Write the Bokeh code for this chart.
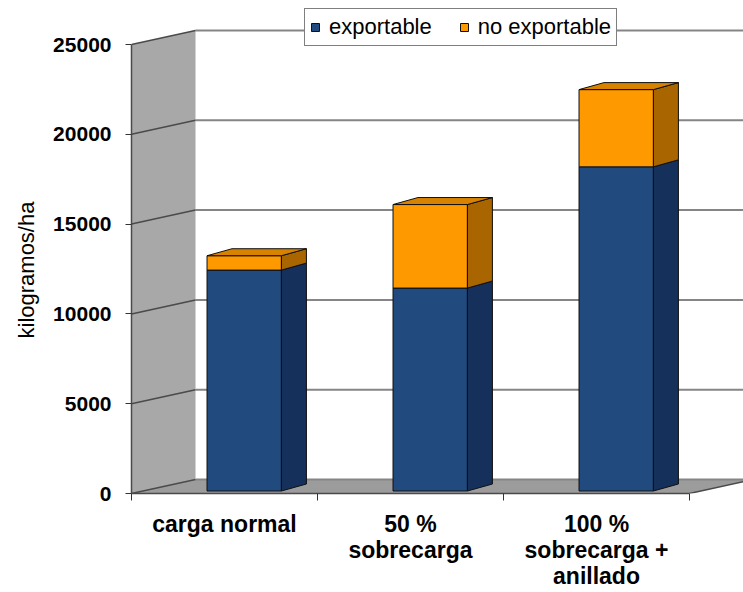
import numpy as np
from bokeh.plotting import figure
from bokeh.models import (Range1d, LinearAxis, FixedTicker, Legend, LegendItem,
                          Title)
from bokeh.embed import file_html
from bokeh.resources import INLINE

# ---------------- data ----------------
categories = ["carga normal", "50 %\nsobrecarga", "100 %\nsobrecarga +\nanillado"]
series_names = ["exportable", "no exportable"]
exportable = [12300, 11300, 18050]
no_exportable = [800, 4650, 4300]
y_ticks = [0, 5000, 10000, 15000, 20000, 25000]
y_title = "kilogramos/ha"

# ---------------- layout / style ----------------
FONT = "Liberation Sans"
W, H = 743, 592
B_LEFT, B_BOTTOM = 131, 99
PX_PER_CAT = 186.0
VAL_PER_PX = 25000.0 / 449.0
frame_w = W - B_LEFT
frame_h = H - B_BOTTOM

C_BLUE, C_BLUE_SIDE = "#214A7E", "#15305A"
C_ORANGE, C_ORANGE_SIDE, C_ORANGE_TOP = "#FF9900", "#A86500", "#D88300"
C_WALL, C_FLOOR = "#A8A8A8", "#9C9C9C"

# oblique offsets (data units)
WALL_DX, WALL_DY = 64 / PX_PER_CAT, 14 * VAL_PER_PX
BAR_DX, BAR_DY = 25 / PX_PER_CAT, 7 * VAL_PER_PX
BAR_OFF, BAR_W = 0.406, 0.40
BAR_BASE = 2.5 * VAL_PER_PX

n = len(categories)
y_top = max(y_ticks)

p = figure(width=W, height=H, output_backend="svg", toolbar_location=None,
           x_range=Range1d(0, frame_w / PX_PER_CAT),
           y_range=Range1d(0, frame_h * VAL_PER_PX),
           x_axis_type=None, y_axis_type=None,
           min_border_left=B_LEFT, min_border_right=0,
           min_border_top=0, min_border_bottom=B_BOTTOM)
p.outline_line_color = None
p.background_fill_color = "white"
p.border_fill_color = "white"

# ---------------- walls ----------------
p.patch([0, WALL_DX, WALL_DX, 0], [0, WALL_DY, y_top + WALL_DY, y_top],
        fill_color=C_WALL, line_color=None)
p.patch([0, WALL_DX, n + WALL_DX, n], [0, WALL_DY, WALL_DY, 0],
        fill_color=C_FLOOR, line_color=None)

# back-wall gridlines
p.segment(x0=[WALL_DX] * len(y_ticks), y0=[t + WALL_DY for t in y_ticks],
          x1=[n + 2 * WALL_DX] * len(y_ticks), y1=[t + WALL_DY for t in y_ticks],
          line_color="#858585", line_width=2)
# side-wall diagonals
p.segment(x0=[0] * len(y_ticks), y0=y_ticks,
          x1=[WALL_DX] * len(y_ticks), y1=[t + WALL_DY for t in y_ticks],
          line_color="#4a4a4a", line_width=1.5)
# floor right edge
p.segment(x0=[n], y0=[0], x1=[n + WALL_DX], y1=[WALL_DY],
          line_color="#4a4a4a", line_width=1.5)

# ---------------- bars ----------------
xi = np.arange(n)
bl = xi + BAR_OFF
br = bl + BAR_W
exp_arr = np.array(exportable, dtype=float)
noe_arr = np.array(no_exportable, dtype=float)
y0 = np.full(n, BAR_BASE)
y1 = y0 + exp_arr
y2 = y1 + noe_arr


def side(b, t):
    xs = [[r, r + BAR_DX, r + BAR_DX, r] for r in br]
    ys = [[a, a + BAR_DY, c + BAR_DY, c] for a, c in zip(b, t)]
    return xs, ys


EDGE = dict(line_color="#101010", line_width=1)
r_exp = p.quad(left=bl, right=br, bottom=y0, top=y1, fill_color=C_BLUE, **EDGE)
xs, ys = side(y0, y1)
p.patches(xs, ys, fill_color=C_BLUE_SIDE, **EDGE)
r_noe = p.quad(left=bl, right=br, bottom=y1, top=y2, fill_color=C_ORANGE, **EDGE)
xs, ys = side(y1, y2)
p.patches(xs, ys, fill_color=C_ORANGE_SIDE, **EDGE)
p.patches([[l, r, r + BAR_DX, l + BAR_DX] for l, r in zip(bl, br)],
          [[t, t, t + BAR_DY, t + BAR_DY] for t in y2],
          fill_color=C_ORANGE_TOP, **EDGE)

# ---------------- axes ----------------
yaxis = LinearAxis(ticker=FixedTicker(ticks=y_ticks), bounds=(0, y_top))
yaxis.axis_line_color = "#4a4a4a"
yaxis.axis_line_width = 1.5
yaxis.major_tick_out = 6
yaxis.major_tick_in = 0
yaxis.major_tick_line_color = "#333333"
yaxis.minor_tick_out = 0
yaxis.minor_tick_in = 0
yaxis.major_label_standoff = 14
yaxis.major_label_text_font = FONT
yaxis.major_label_text_font_size = "21px"
yaxis.major_label_text_font_style = "bold"
yaxis.major_label_text_color = "black"
p.add_layout(yaxis, "left")

p.add_layout(Title(text=y_title, align="left", offset=155, standoff=23,
                   text_font=FONT, text_font_size="22px",
                   text_font_style="normal", text_color="black"), "left")

centers = [i + 0.5 for i in range(n)]
xaxis = LinearAxis(ticker=FixedTicker(ticks=centers, minor_ticks=list(range(n + 1))),
                   bounds=(0, n))
xaxis.major_label_overrides = {c: lab for c, lab in zip(centers, categories)}
xaxis.axis_line_color = "#4a4a4a"
xaxis.axis_line_width = 1.5
xaxis.major_tick_out = 0
xaxis.major_tick_in = 0
xaxis.minor_tick_out = 7
xaxis.minor_tick_in = 0
xaxis.minor_tick_line_color = "#333333"
xaxis.major_label_standoff = 10
xaxis.major_label_text_font = FONT
xaxis.major_label_text_font_size = "23px"
xaxis.major_label_text_font_style = "bold"
xaxis.major_label_text_color = "black"
xaxis.major_label_text_line_height = 1.0
p.add_layout(xaxis, "below")

# ---------------- legend ----------------
legend = Legend(items=[LegendItem(label=series_names[0], renderers=[r_exp]),
                       LegendItem(label=series_names[1], renderers=[r_noe])],
                orientation="horizontal", location=(173, 447),
                glyph_width=10, glyph_height=10, label_standoff=9, spacing=27,
                padding=5, margin=0,
                border_line_color="black", border_line_width=1,
                background_fill_color="white", background_fill_alpha=1,
                label_text_font=FONT, label_text_font_size="22px",
                label_text_color="black")
p.add_layout(legend, "center")

open("out.html", "w").write(file_html(p, INLINE))
